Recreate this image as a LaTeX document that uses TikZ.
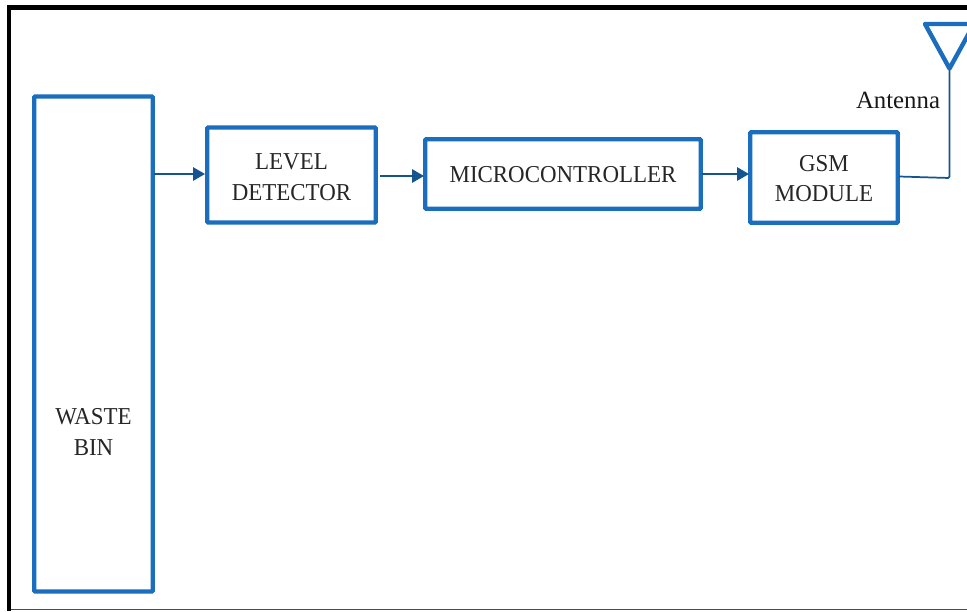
\documentclass[tikz,border=0pt]{standalone}
\usepackage{fontspec}
\setmainfont{Liberation Serif}
\newfontfamily\blockfont[FakeStretch=0.945]{Liberation Serif}
\usetikzlibrary{arrows.meta}
\definecolor{boxblue}{HTML}{1B6EBD}
\definecolor{linkblue}{HTML}{14558F}
\newcommand{\lowered}[2]{\raisebox{-#1}[\height][\depth]{#2}}
\tikzset{
  blockbox/.style={draw=boxblue,line width=3.3pt,rounded corners=0.8pt,fill=white,align=center,inner sep=0pt,font=\blockfont\fontsize{18.2pt}{23pt}\selectfont,text=black!85,minimum width=#1},
  blocktext/.style={align=center,inner sep=0pt,font=\blockfont\fontsize{18.2pt}{23pt}\selectfont,text=black!85},
  link/.style={draw=linkblue,line width=1.6pt,-{Triangle[length=9pt,width=10pt]}},
  wire/.style={draw=linkblue,line width=1.3pt},
}
\begin{document}
\begin{tikzpicture}[x=0.75pt,y=-0.75pt]
\useasboundingbox (0,0) rectangle (967,611);
\fill[white] (0,0) rectangle (967,611);
% frame
\fill[black] (7,5) rectangle (11,611);
\fill[black] (7,5) rectangle (967,10);
\draw[black!70,line width=0.8pt] (11,609.5) -- (967,609.5);
% blocks
\node[blockbox=118.5*0.75pt,minimum height=495*0.75pt] (bin) at (93.5,344) {};
\node[blocktext] (binlabel) at (93.5,432) {WASTE\\BIN};
\node[blockbox=168.5*0.75pt,minimum height=95*0.75pt] (level) at (291.5,175) {\lowered{1.5pt}{LEVEL}\\\lowered{1.5pt}{DETECTOR}};
\node[blockbox=275.5*0.75pt,minimum height=69.5*0.75pt] (micro) at (563,174) {\lowered{0.75pt}{MICROCONTROLLER}};
\node[blockbox=147.5*0.75pt,minimum height=90.5*0.75pt] (gsm) at (824,177.5) {\lowered{0.75pt}{GSM}\\\lowered{0.75pt}{MODULE}};
% links
\coordinate (binout) at (154,174);
\coordinate (levelin) at (205,174);
\coordinate (levelout) at (380,176);
\coordinate (microin) at (424,176);
\coordinate (microout) at (702,174);
\coordinate (gsmin) at (749,174);
\draw[link] (binout) -- (levelin);
\draw[link] (levelout) -- (microin);
\draw[link] (microout) -- (gsmin);
% antenna
\coordinate (gsmout) at (899,176.5);
\coordinate (corner) at (949.5,178);
\coordinate (apex) at (949.5,68.5);
\coordinate (tl) at (925,24);
\coordinate (tr) at (974,24);
\draw[wire,rounded corners=1pt] (gsmout) -- (corner) -- (apex);
\draw[draw=boxblue,line width=3.3pt,line join=round] (tl) -- (tr) -- (apex) -- cycle;
\node[font=\fontsize{18.6pt}{22pt}\selectfont,text=black!90,inner sep=0pt] (ant) at (898,100) {Antenna};
\end{tikzpicture}
\end{document}
